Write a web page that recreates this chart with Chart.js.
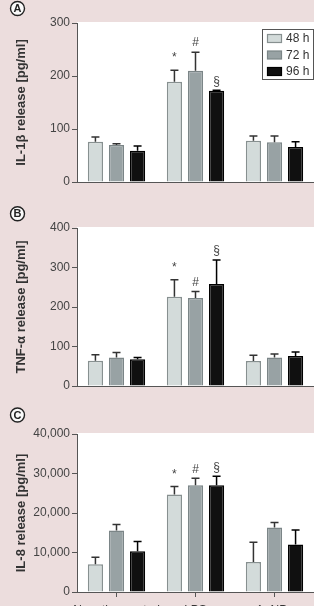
<!DOCTYPE html>
<html>
<head>
<meta charset="utf-8">
<script src="https://cdn.jsdelivr.net/npm/chart.js@4"></script>
<style>
  html, body { margin: 0; padding: 0; background: #ecdddd; overflow: hidden; width: 314px; height: 606px; }
  canvas { position: absolute; left: 0; }
</style>
</head>
<body>
<canvas id="chartA" width="314" height="195" style="top:0px"></canvas>
<canvas id="chartB" width="314" height="195" style="top:195px"></canvas>
<canvas id="chartC" width="314" height="216" style="top:390px"></canvas>
<script>
// categories and series
const categories = ["Negative control", "LPS", "AuNPs"];
const seriesNames = ["48 h", "72 h", "96 h"];
const lpsMarks = ["*", "#", "§"];

// IL-1beta [pg/ml], mean and SD per time point
const il1b48 = [76, 189, 78];
const il1b72 = [70, 210, 75];
const il1b96 = [59, 172, 66];
const il1b48Err = [9, 22, 9];
const il1b72Err = [2, 35, 12];
const il1b96Err = [9, 1, 10];
const il1bTicks = [0, 100, 200, 300];

// TNF-alpha [pg/ml]
const tnf48 = [64, 226, 63];
const tnf72 = [72, 223, 72];
const tnf96 = [68, 258, 76];
const tnf48Err = [15, 43, 15];
const tnf72Err = [13, 16, 9];
const tnf96Err = [4, 61, 10];
const tnfTicks = [0, 100, 200, 300, 400];

// IL-8 [pg/ml]
const il848 = [7000, 24700, 7600];
const il872 = [15600, 27000, 16300];
const il896 = [10300, 27000, 12000];
const il848Err = [1800, 2000, 5000];
const il872Err = [1500, 1800, 1300];
const il896Err = [2500, 2300, 3700];
const il8Ticks = [0, 10000, 20000, 30000, 40000];

const fills = ["#d3dbda", "#98a2a4", "#101010"];
const borders = ["#879090", "#7b8587", "#000000"];

Chart.defaults.font.family = 'Arial, "Liberation Sans", sans-serif';

function decor(cfg) {
  return {
    id: "decor",
    beforeDraw(chart) {
      const { ctx, chartArea: a } = chart;
      ctx.save();
      ctx.fillStyle = "#ffffff";
      ctx.fillRect(a.left, a.top - 1, a.right - a.left, a.bottom - a.top + 1);
      // circled panel letter
      ctx.beginPath();
      ctx.arc(17.5, cfg.letterY, 7, 0, Math.PI * 2);
      ctx.fillStyle = "#fafafa";
      ctx.fill();
      ctx.lineWidth = 1.4;
      ctx.strokeStyle = "#222";
      ctx.stroke();
      ctx.fillStyle = "#222";
      ctx.font = 'bold 11px Arial, "Liberation Sans", sans-serif';
      ctx.textAlign = "center";
      ctx.textBaseline = "middle";
      ctx.fillText(cfg.letter, 17.5, cfg.letterY + 0.5);
      ctx.restore();
    },
    afterDatasetsDraw(chart) {
      const { ctx } = chart;
      const y = chart.scales.y;
      ctx.save();
      chart.data.datasets.forEach((ds, i) => {
        const meta = chart.getDatasetMeta(i);
        meta.data.forEach((bar, j) => {
          const top = y.getPixelForValue(ds.data[j] + ds.errors[j]);
          ctx.strokeStyle = i === 2 ? "#000" : "#333";
          ctx.lineWidth = 1.5;
          ctx.beginPath();
          ctx.moveTo(bar.x, bar.y);
          ctx.lineTo(bar.x, top);
          ctx.moveTo(bar.x - 4, top);
          ctx.lineTo(bar.x + 4, top);
          ctx.stroke();
          if (j === 1) {
            ctx.fillStyle = "#444";
            ctx.font = '12px Arial, "Liberation Sans", sans-serif';
            ctx.textAlign = "center";
            ctx.textBaseline = "bottom";
            ctx.fillText(lpsMarks[i], bar.x, top - (i === 0 ? 6 : 3));
          }
        });
      });
      ctx.restore();
    },
    afterDraw(chart) {
      if (!cfg.legend) return;
      const { ctx } = chart;
      ctx.save();
      ctx.fillStyle = "#fff";
      ctx.fillRect(262.5, 29.5, 51, 50);
      ctx.strokeStyle = "#555";
      ctx.lineWidth = 1;
      ctx.strokeRect(262.5, 29.5, 51, 50);
      chart.data.datasets.forEach((ds, i) => {
        const cy = 38.5 + i * 16.5;
        ctx.fillStyle = ds.backgroundColor;
        ctx.fillRect(267.5, cy - 4, 14, 8);
        ctx.strokeStyle = ds.borderColor;
        ctx.lineWidth = 1.2;
        ctx.strokeRect(267.5, cy - 4, 14, 8);
        ctx.fillStyle = "#333";
        ctx.font = '12px Arial, "Liberation Sans", sans-serif';
        ctx.textAlign = "left";
        ctx.textBaseline = "middle";
        ctx.fillText(ds.label, 286, cy + 0.5);
      });
      ctx.restore();
    }
  };
}

function buildPanel(canvasId, cfg) {
  const canvas = document.getElementById(canvasId);
  const H = canvas.height;
  return new Chart(canvas, {
    type: "bar",
    data: {
      labels: categories,
      datasets: cfg.series.map((vals, i) => ({
        label: seriesNames[i],
        data: vals,
        errors: cfg.errors[i],
        backgroundColor: fills[i],
        borderColor: borders[i],
        borderWidth: 1.5,
        categoryPercentage: 0.8,
        barPercentage: 0.72
      }))
    },
    options: {
      responsive: false,
      animation: false,
      events: [],
      layout: { padding: { top: cfg.top, left: 0, right: 0, bottom: 0 } },
      plugins: { legend: { display: false }, tooltip: { enabled: false } },
      scales: {
        x: {
          grid: { display: cfg.showX, offset: false, drawOnChartArea: false, drawTicks: cfg.showX, tickLength: 5, color: "#555" },
          border: { display: true, color: "#555", width: 1 },
          ticks: { display: cfg.showX, padding: 6, color: "#333", font: { size: 12 }, maxRotation: 0, autoSkip: false },
          afterFit: s => { s.height = H - cfg.bottom; s.paddingLeft = 0; s.paddingRight = 0; }
        },
        y: {
          min: 0,
          max: cfg.ticks[cfg.ticks.length - 1],
          afterBuildTicks: s => { s.ticks = cfg.ticks.map(v => ({ value: v })); },
          grid: { display: true, drawOnChartArea: false, drawTicks: true, tickLength: 5, color: "#555" },
          border: { display: true, color: "#555", width: 1 },
          ticks: { padding: 2, color: "#444", font: { size: 12 }, callback: v => v.toLocaleString("en-US") },
          title: { display: true, text: cfg.title, color: "#333", font: { size: 13, weight: "bold" }, padding: { top: 14, bottom: 0 } },
          afterFit: s => { s.width = 77; s.paddingTop = 0; s.paddingBottom = 0; }
        }
      }
    },
    plugins: [decor(cfg)]
  });
}

buildPanel("chartA", {
  series: [il1b48, il1b72, il1b96],
  errors: [il1b48Err, il1b72Err, il1b96Err],
  ticks: il1bTicks,
  title: "IL-1β release [pg/ml]",
  top: 23, bottom: 182, showX: false,
  letter: "A", letterY: 8.5, legend: true
});

buildPanel("chartB", {
  series: [tnf48, tnf72, tnf96],
  errors: [tnf48Err, tnf72Err, tnf96Err],
  ticks: tnfTicks,
  title: "TNF-α release [pg/ml]",
  top: 33, bottom: 191, showX: false,
  letter: "B", letterY: 18.8, legend: false
});

buildPanel("chartC", {
  series: [il848, il872, il896],
  errors: [il848Err, il872Err, il896Err],
  ticks: il8Ticks,
  title: "IL-8 release [pg/ml]",
  top: 44, bottom: 202, showX: true,
  letter: "C", letterY: 25, legend: false
});
</script>
</body>
</html>
